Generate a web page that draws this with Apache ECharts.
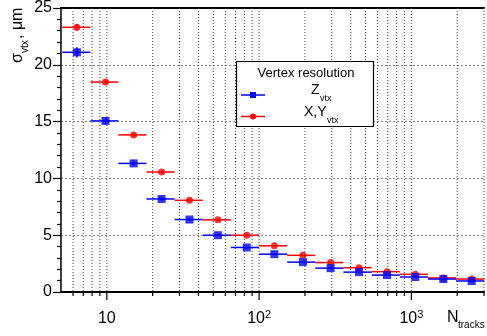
<!DOCTYPE html>
<html><head><meta charset="utf-8">
<script src="https://cdn.jsdelivr.net/npm/echarts@6/dist/echarts.min.js"></script>
<style>html,body{margin:0;padding:0;background:#fff}#c{width:487px;height:336px}</style>
</head><body><div id="c"></div>
<script>
// N_tracks bins (log-spaced)
const binCenters = [6.36, 9.8, 15.0, 22.9, 34.9, 53.6, 83, 126, 194, 295, 453, 692, 1062, 1622, 2490];
const binLow     = [5.1, 7.8, 11.9, 18.2, 27.9, 42.7, 65.3, 100, 153, 234, 358, 549, 840, 1285, 1967];
const binHigh    = [7.8, 11.9, 18.2, 27.9, 42.7, 65.3, 100, 153, 234, 358, 549, 840, 1285, 1967, 3010];
// Z_vtx resolution (um)
const zVtx    = [21.1, 15.06, 11.32, 8.19, 6.38, 5.0, 3.92, 3.33, 2.63, 2.1, 1.75, 1.49, 1.32, 1.14, 0.97];
const zVtxErr = [0.45, 0.3, 0.2, 0.15, 0.1, 0.1, 0.08, 0.08, 0.06, 0.05, 0.05, 0.04, 0.04, 0.04, 0.04];
// X,Y_vtx resolution (um)
const xyVtx    = [23.3, 18.48, 13.83, 10.56, 8.07, 6.35, 5.0, 4.07, 3.23, 2.59, 2.14, 1.79, 1.56, 1.24, 1.14];
const xyVtxErr = [0.3, 0.2, 0.15, 0.12, 0.1, 0.08, 0.07, 0.06, 0.05, 0.05, 0.04, 0.04, 0.04, 0.04, 0.04];
// axis ticks
const xMajorTicks = [10, 100, 1000];
const xMinorTicks = [6, 7, 8, 9, 20, 30, 40, 50, 60, 70, 80, 90, 200, 300, 400, 500, 600, 700, 800, 900, 2000, 3000];
const xMin = 5, xMax = 3000, yMin = 0, yMax = 25, yStep = 5;

const FONT = 'Liberation Sans, Arial, Helvetica, sans-serif';
const BLUE = '#0000ff', RED = '#ff0000';

const chart = echarts.init(document.getElementById('c'), null, {renderer: 'canvas'});

function errRows(vals, errs) {
  return binCenters.map((c, i) => [c, vals[i], binLow[i], binHigh[i], errs[i]]);
}
function errBarItem(color) {
  return function (params, api) {
    const x = api.value(0), y = api.value(1), lo = api.value(2), hi = api.value(3), e = api.value(4);
    const l = api.coord([lo, y]), r = api.coord([hi, y]);
    const t = api.coord([x, y + e]), b = api.coord([x, y - e]);
    return {type: 'group', children: [
      {type: 'line', shape: {x1: l[0], y1: l[1], x2: r[0], y2: r[1]}, style: {stroke: color, lineWidth: 1.5}},
      {type: 'line', shape: {x1: t[0], y1: t[1], x2: b[0], y2: b[1]}, style: {stroke: color, lineWidth: 1.5}}
    ]};
  };
}
const gridRows = xMajorTicks.map(v => [v, 1]).concat(xMinorTicks.map(v => [v, 0]));
function gridItem(params, api) {
  const v = api.value(0), major = api.value(1);
  const top = api.coord([v, yMax]), bot = api.coord([v, yMin]);
  return {type: 'group', children: [
    {type: 'line', shape: {x1: top[0], y1: top[1], x2: bot[0], y2: bot[1]}, style: {stroke: '#444', lineWidth: 1, lineDash: [1, 2]}},
    {type: 'line', shape: {x1: bot[0], y1: bot[1], x2: bot[0], y2: bot[1] + (major ? 8 : 4)}, style: {stroke: '#000', lineWidth: 1.2}}
  ]};
}

chart.setOption({
  animation: false,
  backgroundColor: '#fff',
  grid: {left: 61, top: 7, width: 428, height: 285, containLabel: false},
  xAxis: [{
    type: 'log', logBase: 10, min: xMin, max: xMax,
    axisLine: {show: true, lineStyle: {color: '#000', width: 2}},
    axisTick: {show: false}, splitLine: {show: false},
    axisLabel: {
      margin: 17, color: '#000', fontFamily: FONT,
      formatter: function (v) {
        const lg = Math.log10(v), e = Math.round(lg);
        if (Math.abs(lg - e) > 1e-6) return '';
        return e === 1 ? '{b|10}' : '{b|10}{s|' + e + '}';
      },
      rich: {
        b: {fontSize: 16, lineHeight: 20, fontFamily: FONT, color: '#000'},
        s: {fontSize: 11, lineHeight: 11, verticalAlign: 'top', fontFamily: FONT, color: '#000'}
      }
    }
  }, {
    type: 'value', position: 'top', min: 0, max: 1,
    axisLine: {show: true, onZero: false, lineStyle: {color: '#000', width: 2}},
    axisTick: {show: false}, axisLabel: {show: false}, splitLine: {show: false}
  }],
  yAxis: {
    type: 'value', min: yMin, max: yMax, interval: yStep,
    axisLine: {show: true, lineStyle: {color: '#000', width: 1.5}},
    axisTick: {show: true, length: 8, lineStyle: {color: '#000', width: 1.2}},
    minorTick: {show: true, splitNumber: 5, length: 4, lineStyle: {color: '#000', width: 1.2}},
    splitLine: {show: true, lineStyle: {color: '#888', width: 1, type: [2, 2]}},
    axisLabel: {margin: 9, fontSize: 16, color: '#000', fontFamily: FONT}
  },
  series: [
    {type: 'custom', name: 'grid', data: gridRows, renderItem: gridItem, encode: {x: 0, y: 1}, silent: true, z: 1},
    {type: 'custom', name: 'xyerr', data: errRows(xyVtx, xyVtxErr), renderItem: errBarItem(RED), encode: {x: 0, y: 1}, z: 3},
    {type: 'scatter', name: 'X,Y_vtx', data: binCenters.map((c, i) => [c, xyVtx[i]]), symbol: 'circle', symbolSize: 7, itemStyle: {color: RED}, z: 4},
    {type: 'custom', name: 'zerr', data: errRows(zVtx, zVtxErr), renderItem: errBarItem(BLUE), encode: {x: 0, y: 1}, z: 5},
    {type: 'scatter', name: 'Z_vtx', data: binCenters.map((c, i) => [c, zVtx[i]]), symbol: 'rect', symbolSize: 8, itemStyle: {color: BLUE}, z: 6}
  ],
  graphic: [
    // legend
    {type: 'rect', z: 100, shape: {x: 236.5, y: 61.5, width: 137, height: 65}, style: {fill: '#fff', stroke: '#000', lineWidth: 1.2}},
    {type: 'text', z: 101, style: {text: 'Vertex resolution', x: 306, y: 73.5, textAlign: 'center', textVerticalAlign: 'middle', font: '13px ' + FONT, fill: '#000'}},
    {type: 'line', z: 101, shape: {x1: 241, y1: 95, x2: 265, y2: 95}, style: {stroke: BLUE, lineWidth: 1.5}},
    {type: 'rect', z: 102, shape: {x: 250, y: 92, width: 6, height: 6}, style: {fill: BLUE}},
    {type: 'text', z: 101, style: {text: 'Z', x: 311, y: 97, textAlign: 'left', textVerticalAlign: 'bottom', font: '14px ' + FONT, fill: '#000'}},
    {type: 'text', z: 101, style: {text: 'vtx', x: 320, y: 103, textAlign: 'left', textVerticalAlign: 'bottom', font: '9px ' + FONT, fill: '#000'}},
    {type: 'line', z: 101, shape: {x1: 241, y1: 116.5, x2: 265, y2: 116.5}, style: {stroke: RED, lineWidth: 1.5}},
    {type: 'circle', z: 102, shape: {cx: 253, cy: 116.5, r: 3}, style: {fill: RED}},
    {type: 'text', z: 101, style: {text: 'X,Y', x: 304, y: 119, textAlign: 'left', textVerticalAlign: 'bottom', font: '14px ' + FONT, fill: '#000'}},
    {type: 'text', z: 101, style: {text: 'vtx', x: 327, y: 125, textAlign: 'left', textVerticalAlign: 'bottom', font: '9px ' + FONT, fill: '#000'}},
    // y axis title (rotated)
    {type: 'group', x: 26, y: 63, rotation: Math.PI / 2, children: [
      {type: 'text', style: {text: 'σ', x: 0, y: 0, textAlign: 'left', textVerticalAlign: 'bottom', font: '16px ' + FONT, fill: '#000'}},
      {type: 'text', style: {text: 'vtx', x: 10, y: 4, textAlign: 'left', textVerticalAlign: 'bottom', font: '10px ' + FONT, fill: '#000'}},
      {type: 'text', style: {text: ', μm', x: 24, y: 0, textAlign: 'left', textVerticalAlign: 'bottom', font: '16px ' + FONT, fill: '#000'}}
    ]},
    // x axis title
    {type: 'text', style: {text: 'N', x: 447, y: 326, textAlign: 'left', textVerticalAlign: 'bottom', font: '16px ' + FONT, fill: '#000'}},
    {type: 'text', style: {text: 'tracks', x: 458, y: 330, textAlign: 'left', textVerticalAlign: 'bottom', font: '10px ' + FONT, fill: '#000'}}
  ]
});
</script>
</body></html>
